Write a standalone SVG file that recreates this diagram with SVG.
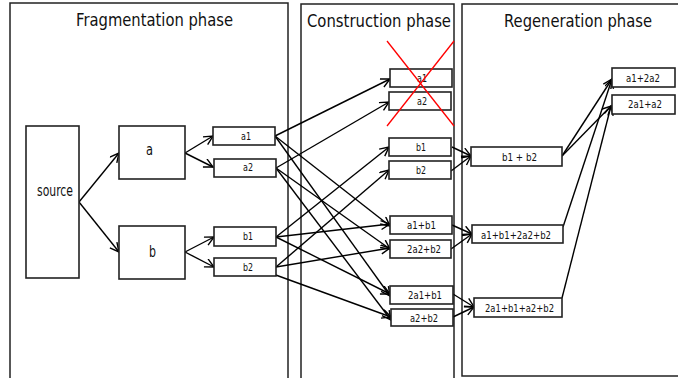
<svg xmlns="http://www.w3.org/2000/svg" width="678" height="378" viewBox="0 0 678 378">
<defs>
<style>
.phase{fill:#fff;stroke:#222;stroke-width:1.5}
.box{fill:#fff;stroke:#222;stroke-width:1.6}
.title{font-family:"DejaVu Sans","Liberation Sans",sans-serif;font-size:18px;fill:#111}
.big{font-family:"DejaVu Sans","Liberation Sans",sans-serif;font-size:15px;fill:#111}
.lbl{font-family:"DejaVu Sans","Liberation Sans",sans-serif;font-size:11px;fill:#111}
.con{fill:none;stroke:#000;stroke-width:1.4;marker-end:url(#arr)}
.cross{stroke:#ff0000;stroke-width:1.3}
</style>
<marker id="arr" markerUnits="userSpaceOnUse" markerWidth="12" markerHeight="12" refX="10" refY="5" orient="auto">
<path d="M1,0.5 L10,5 L1,9.5" fill="none" stroke="#000" stroke-width="1.4"/>
</marker>
</defs>
<g id="phases">
<g id="fragmentation-phase"><rect class="phase" x="10" y="3" width="278" height="390"/><text class="title" x="76" y="26" textLength="157" lengthAdjust="spacingAndGlyphs">Fragmentation phase</text></g>
<g id="construction-phase"><rect class="phase" x="301" y="4" width="153" height="390"/><text class="title" x="307" y="27" textLength="144" lengthAdjust="spacingAndGlyphs">Construction phase</text></g>
<g id="regeneration-phase"><rect class="phase" x="462" y="4" width="217" height="372"/><text class="title" x="504" y="27" textLength="148" lengthAdjust="spacingAndGlyphs">Regeneration phase</text></g>
</g>
<g id="connectors">
<line class="con" x1="79" y1="202" x2="119" y2="153"/>
<line class="con" x1="79" y1="202" x2="119" y2="252"/>
<line class="con" x1="185" y1="153" x2="213" y2="136"/>
<line class="con" x1="185" y1="153" x2="213" y2="167"/>
<line class="con" x1="185" y1="252" x2="214" y2="237"/>
<line class="con" x1="185" y1="252" x2="214" y2="267"/>
<line class="con" x1="275" y1="136" x2="390" y2="79"/>
<line class="con" x1="275" y1="136" x2="390" y2="226"/>
<line class="con" x1="275" y1="136" x2="390" y2="296"/>
<line class="con" x1="276" y1="168" x2="389" y2="102"/>
<line class="con" x1="276" y1="168" x2="390" y2="249"/>
<line class="con" x1="276" y1="168" x2="391" y2="320"/>
<line class="con" x1="276" y1="237" x2="389" y2="147"/>
<line class="con" x1="276" y1="237" x2="390" y2="224"/>
<line class="con" x1="276" y1="237" x2="390" y2="294"/>
<line class="con" x1="276" y1="267" x2="389" y2="170"/>
<line class="con" x1="276" y1="267" x2="390" y2="248"/>
<line class="con" x1="273" y1="274" x2="391" y2="317"/>
<line class="con" x1="452" y1="147" x2="471" y2="156"/>
<line class="con" x1="451" y1="171" x2="471" y2="156"/>
<line class="con" x1="452" y1="225" x2="472" y2="234"/>
<line class="con" x1="451" y1="249" x2="472" y2="234"/>
<line class="con" x1="453" y1="294" x2="474" y2="307"/>
<line class="con" x1="453" y1="317" x2="474" y2="307"/>
<line class="con" x1="562" y1="156" x2="612" y2="79"/>
<line class="con" x1="562" y1="156" x2="611" y2="106"/>
<line class="con" x1="563" y1="227" x2="612" y2="79"/>
<line class="con" x1="562" y1="298" x2="611" y2="106"/>
</g>
<g id="source"><rect class="box" x="26" y="126" width="53" height="152"/><text class="big" x="37" y="196" textLength="36" lengthAdjust="spacingAndGlyphs">source</text></g>
<g id="a"><rect class="box" x="119" y="126" width="66" height="53"/><text class="big" x="146" y="155" textLength="7" lengthAdjust="spacingAndGlyphs">a</text></g>
<g id="b"><rect class="box" x="119" y="226" width="66" height="53"/><text class="big" x="149" y="257" textLength="7" lengthAdjust="spacingAndGlyphs">b</text></g>
<g id="f-a1"><rect class="box" x="213" y="127" width="62" height="18"/><text class="lbl" x="241" y="140" textLength="10" lengthAdjust="spacingAndGlyphs">a1</text></g>
<g id="f-a2"><rect class="box" x="214" y="159" width="62" height="18"/><text class="lbl" x="243" y="171" textLength="10" lengthAdjust="spacingAndGlyphs">a2</text></g>
<g id="f-b1"><rect class="box" x="214" y="227" width="62" height="19"/><text class="lbl" x="243" y="240" textLength="10" lengthAdjust="spacingAndGlyphs">b1</text></g>
<g id="f-b2"><rect class="box" x="214" y="258" width="62" height="18"/><text class="lbl" x="243" y="271" textLength="10" lengthAdjust="spacingAndGlyphs">b2</text></g>
<g id="c-a1"><rect class="box" x="390" y="69" width="62" height="18"/><text class="lbl" x="417" y="82" textLength="10" lengthAdjust="spacingAndGlyphs">a1</text></g>
<g id="c-a2"><rect class="box" x="389" y="92" width="62" height="18"/><text class="lbl" x="417" y="105" textLength="10" lengthAdjust="spacingAndGlyphs">a2</text></g>
<g id="c-b1"><rect class="box" x="389" y="138" width="62" height="18"/><text class="lbl" x="416" y="151" textLength="10" lengthAdjust="spacingAndGlyphs">b1</text></g>
<g id="c-b2"><rect class="box" x="389" y="161" width="62" height="18"/><text class="lbl" x="416" y="174" textLength="10" lengthAdjust="spacingAndGlyphs">b2</text></g>
<g id="c-a1b1"><rect class="box" x="390" y="216" width="62" height="18"/><text class="lbl" x="407" y="229" textLength="29" lengthAdjust="spacingAndGlyphs">a1+b1</text></g>
<g id="c-2a2b2"><rect class="box" x="390" y="240" width="61" height="18"/><text class="lbl" x="407" y="253" textLength="34" lengthAdjust="spacingAndGlyphs">2a2+b2</text></g>
<g id="c-2a1b1"><rect class="box" x="390" y="286" width="63" height="18"/><text class="lbl" x="408" y="299" textLength="34" lengthAdjust="spacingAndGlyphs">2a1+b1</text></g>
<g id="c-a2b2"><rect class="box" x="391" y="309" width="62" height="17"/><text class="lbl" x="410" y="322" textLength="28" lengthAdjust="spacingAndGlyphs">a2+b2</text></g>
<g id="cross"><line class="cross" x1="387" y1="41" x2="454" y2="126"/><line class="cross" x1="454" y1="41" x2="387" y2="126"/></g>
<g id="r-b1b2"><rect class="box" x="471" y="147" width="91" height="19"/><text class="lbl" x="502" y="161" textLength="35" lengthAdjust="spacingAndGlyphs">b1 + b2</text></g>
<g id="r-a12a2"><rect class="box" x="612" y="68" width="63" height="19"/><text class="lbl" x="626" y="82" textLength="34" lengthAdjust="spacingAndGlyphs">a1+2a2</text></g>
<g id="r-2a1a2"><rect class="box" x="612" y="95" width="63" height="19"/><text class="lbl" x="628" y="108" textLength="34" lengthAdjust="spacingAndGlyphs">2a1+a2</text></g>
<g id="r-a1b12a2b2"><rect class="box" x="472" y="225" width="91" height="18"/><text class="lbl" x="481" y="239" textLength="70" lengthAdjust="spacingAndGlyphs">a1+b1+2a2+b2</text></g>
<g id="r-2a1b1a2b2"><rect class="box" x="474" y="298" width="88" height="19"/><text class="lbl" x="485" y="312" textLength="69" lengthAdjust="spacingAndGlyphs">2a1+b1+a2+b2</text></g>
</svg>
